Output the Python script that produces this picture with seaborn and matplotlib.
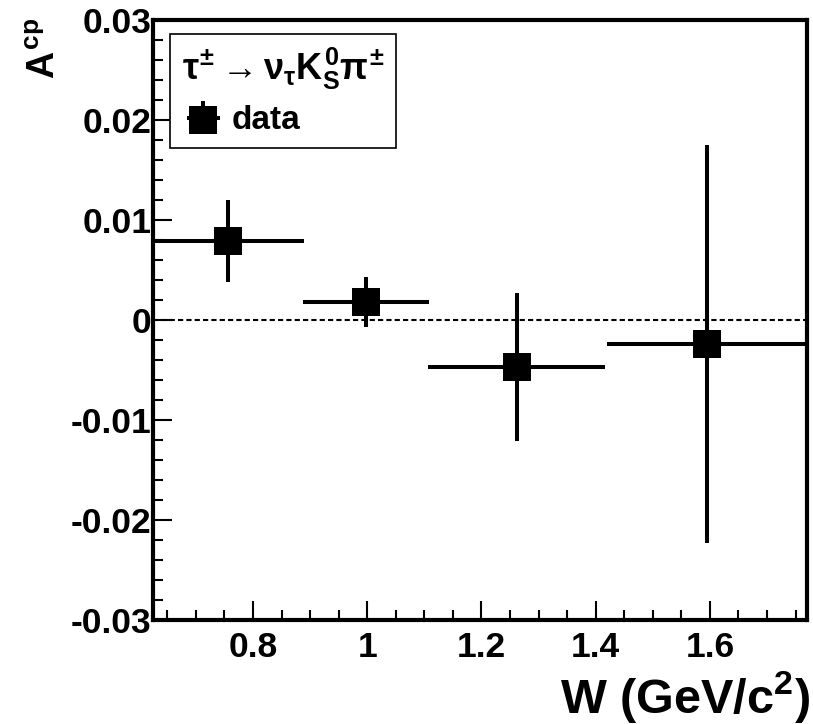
import numpy as np
import pandas as pd
import matplotlib
matplotlib.use('Agg')
import matplotlib.pyplot as plt
import seaborn as sns
from matplotlib.ticker import AutoMinorLocator

# ---- data ----
w = [0.757, 0.998, 1.262, 1.595]
w_err = [0.132, 0.110, 0.155, 0.176]
acp = [0.0079, 0.0018, -0.0047, -0.0024]
acp_err = [0.0041, 0.0025, 0.0074, 0.0199]
x_ticks = [0.8, 1.0, 1.2, 1.4, 1.6]
x_tick_labels = ['0.8', '1', '1.2', '1.4', '1.6']
y_ticks = [-0.03, -0.02, -0.01, 0.0, 0.01, 0.02, 0.03]
y_tick_labels = ['-0.03', '-0.02', '-0.01', '0', '0.01', '0.02', '0.03']
series_label = 'data'
legend_title = r'$\tau^{\pm} \rightarrow \nu_{\tau}K^{0}_{S}\pi^{\pm}$'
x_label = r'W (GeV/c$^{2}$)'
y_label = r'$A^{cp}$'

sns.set_style('white')
plt.rcParams['font.family'] = ['Liberation Sans', 'DejaVu Sans']
plt.rcParams['font.weight'] = 'bold'
plt.rcParams['axes.unicode_minus'] = False
plt.rcParams['text.color'] = 'black'
plt.rcParams['axes.labelcolor'] = 'black'
plt.rcParams['xtick.color'] = 'black'
plt.rcParams['ytick.color'] = 'black'
plt.rcParams['mathtext.fontset'] = 'custom'
plt.rcParams['mathtext.rm'] = 'Liberation Sans:bold'
plt.rcParams['mathtext.it'] = 'Liberation Sans:bold'
plt.rcParams['mathtext.bf'] = 'Liberation Sans:bold'
plt.rcParams['mathtext.sf'] = 'Liberation Sans:bold'

df = pd.DataFrame({'W': w, 'Acp': acp})

fig = plt.figure(figsize=(8.13, 7.24), dpi=100)
ax = fig.add_axes([153 / 813, 104 / 724, 654 / 813, 600 / 724])

ax.axhline(0, color='black', lw=1.5, ls=(0, (2.5, 1.5)), zorder=1)
eb = ax.errorbar(df['W'], df['Acp'], xerr=w_err, yerr=acp_err, fmt='none',
                 ecolor='black', elinewidth=2.9, capsize=0, zorder=2)
sns.scatterplot(data=df, x='W', y='Acp', marker='s', s=380, color='black',
                linewidth=0, ax=ax, zorder=3, legend=False)
sc = ax.collections[-1]

ax.set_xlim(0.625, 1.77)
ax.set_ylim(-0.03, 0.03)
ax.set_xticks(x_ticks, x_tick_labels)
ax.set_yticks(y_ticks, y_tick_labels)
ax.xaxis.set_minor_locator(AutoMinorLocator(4))
ax.yaxis.set_minor_locator(AutoMinorLocator(5))
ax.tick_params(which='both', direction='in', bottom=True, left=True,
               top=False, right=False, width=1.5, color='black',
               labelcolor='black')
ax.tick_params(which='major', length=14, labelsize=25.5)
ax.tick_params(which='minor', length=7)
ax.tick_params(axis='y', pad=1)
ax.tick_params(axis='x', pad=8)
for sp in ax.spines.values():
    sp.set_linewidth(3)
    sp.set_color('black')

xl = ax.set_xlabel(x_label, fontsize=35, fontweight='bold', loc='right')
ax.xaxis.set_label_coords(1.0 + 3 / 654, -93 / 600)
xl.set_va('baseline')
xl.set_ha('right')

yl = ax.set_ylabel(y_label, fontsize=27, fontweight='bold')
ax.yaxis.set_label_coords(-108 / 654, 1.0 + 2 / 600)
yl.set_rotation_mode('default')
yl.set_ha('center')
yl.set_va('top')

leg = ax.legend(handles=[(eb, sc)], labels=[series_label], title=legend_title,
                loc='upper left', bbox_to_anchor=(17 / 654, 586 / 600),
                borderaxespad=0, fontsize=24, title_fontsize=26, frameon=True,
                fancybox=False, edgecolor='black', framealpha=1,
                borderpad=0.35, labelspacing=0.4, handlelength=1.3,
                handletextpad=0.2, alignment='left')
leg.get_frame().set_linewidth(1.2)
leg.get_title().set_fontweight('bold')

fig.savefig('out.png', dpi=100)
